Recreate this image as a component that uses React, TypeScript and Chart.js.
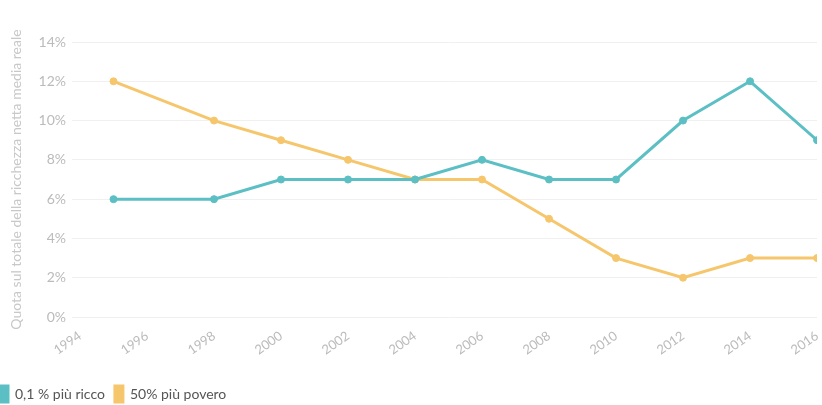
import React, { useEffect, useRef } from "react";
import { Chart, registerables } from "chart.js";

Chart.register(...registerables);

const years = [1995, 1998, 2000, 2002, 2004, 2006, 2008, 2010, 2012, 2014, 2016];
const richest = [6, 6, 7, 7, 7, 8, 7, 7, 10, 12, 9];
const poorest = [12, 10, 9, 8, 7, 7, 5, 3, 2, 3, 3];
const seriesLabels = ["0,1 % più ricco", "50% più povero"];
const yTitle = "Quota sul totale della ricchezza netta media reale";

export default function App() {
  const ref = useRef<HTMLCanvasElement>(null);
  useEffect(() => {
    if (!ref.current) return;
    const font = "Lato, 'Open Sans', sans-serif";
    const chart = new Chart(ref.current, {
      type: "line",
      data: {
        datasets: [
          {
            label: seriesLabels[0],
            data: years.map((x, i) => ({ x, y: richest[i] })),
            borderColor: "#5bbfc4",
            backgroundColor: "#5bbfc4",
            borderWidth: 3,
            pointRadius: 3.5,
            pointBorderWidth: 1,
            pointBackgroundColor: "#5bbfc4",
            tension: 0,
          },
          {
            label: seriesLabels[1],
            data: years.map((x, i) => ({ x, y: poorest[i] })),
            borderColor: "#f6c66c",
            backgroundColor: "#f6c66c",
            borderWidth: 3,
            pointRadius: 3.5,
            pointBorderWidth: 1,
            pointBackgroundColor: "#f6c66c",
            tension: 0,
          },
        ],
      },
      options: {
        animation: false,
        responsive: false,
        maintainAspectRatio: false,
        layout: { padding: { top: 42, right: 0, left: 0, bottom: 0 } },
        plugins: {
          tooltip: { enabled: false },
          legend: {
            position: "bottom",
            align: "start",
            labels: {
              boxWidth: 8,
              boxHeight: 16,
              padding: 10,
              color: "#555",
              font: { family: font, size: 14 },
            },
          },
        },
        scales: {
          x: {
            type: "linear",
            min: 1994,
            max: 2016,
            grid: { display: false },
            border: { display: false },
            afterFit: (scale: any) => {
              scale.height = 59;
            },
            ticks: {
              stepSize: 2,
              maxRotation: 35,
              minRotation: 35,
              color: "#bbb",
              font: { family: font, size: 13 },
              callback: (v: any) => String(v),
            },
          },
          y: {
            min: 0,
            max: 14,
            grid: { color: "#f0f0f0", drawTicks: true, tickLength: 8 },
            border: { display: false },
            afterFit: (scale: any) => {
              scale.width = 90;
            },
            ticks: {
              stepSize: 2,
              padding: 6,
              color: "#bbb",
              font: { family: font, size: 14 },
              callback: (v: any) => v + "%",
            },
            title: {
              display: true,
              text: yTitle,
              color: "#c8c8c8",
              font: { family: font, size: 14 },
              padding: { top: 18, bottom: 10 },
            },
          },
        },
      },
    });
    return () => chart.destroy();
  }, []);
  return (
    <div style={{ position: "absolute", left: 0, top: 0, width: 822, height: 405, overflow: "hidden", background: "#fff" }}>
      <canvas ref={ref} width={839} height={412} style={{ display: "block", position: "absolute", left: -10, top: 0 }} />
    </div>
  );
}
